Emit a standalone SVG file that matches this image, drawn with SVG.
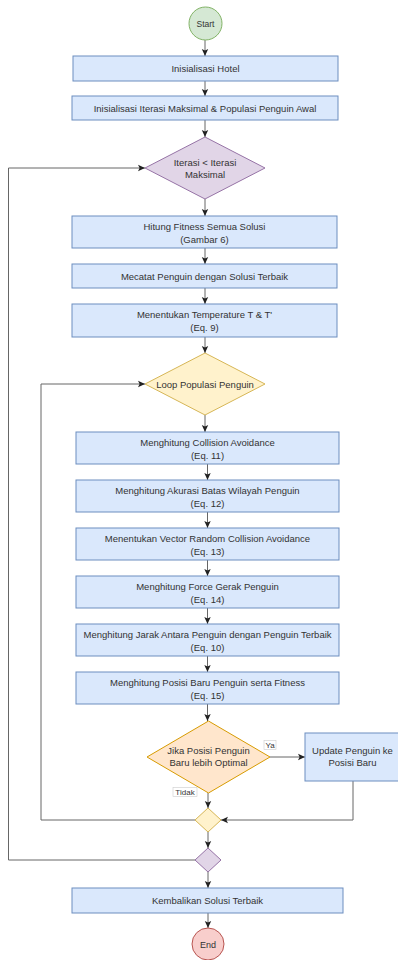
<svg xmlns="http://www.w3.org/2000/svg" width="398" height="960" viewBox="0 0 398 960">
<style>
text{font-family:"Liberation Sans",Arial,sans-serif;font-size:9.5px;fill:#333;text-anchor:middle}
.box{fill:#dae8fc;stroke:#6c8ebf;stroke-width:1}
.ln{fill:none;stroke:#666;stroke-width:1}
.lbl{fill:#fff;stroke:#ccc;stroke-width:0.6}
.small{font-size:8px}
</style>
<defs>
<marker id="ah" markerWidth="8" markerHeight="8" refX="7" refY="4" orient="auto" markerUnits="userSpaceOnUse">
<path d="M0,0.8 L7,4 L0,7.2 L1.6,4 Z" fill="#222"/>
</marker>
</defs>
<g id="connectors">
<path class="ln" marker-end="url(#ah)" d="M205 40 V56"/>
<path class="ln" marker-end="url(#ah)" d="M205 81 V96"/>
<path class="ln" marker-end="url(#ah)" d="M205 120 V137"/>
<path class="ln" marker-end="url(#ah)" d="M205 199 V216"/>
<path class="ln" marker-end="url(#ah)" d="M205 248 V264"/>
<path class="ln" marker-end="url(#ah)" d="M205 288 V304"/>
<path class="ln" marker-end="url(#ah)" d="M205 337 V353"/>
<path class="ln" marker-end="url(#ah)" d="M205 415 V432"/>
<path class="ln" marker-end="url(#ah)" d="M207.5 464 V480"/>
<path class="ln" marker-end="url(#ah)" d="M207.5 512 V528"/>
<path class="ln" marker-end="url(#ah)" d="M207.5 560 V576"/>
<path class="ln" marker-end="url(#ah)" d="M207.5 608 V624"/>
<path class="ln" marker-end="url(#ah)" d="M207.5 656 V672"/>
<path class="ln" marker-end="url(#ah)" d="M207.5 704 V721"/>
<path class="ln" marker-end="url(#ah)" d="M270 757 H305"/>
<path class="ln" marker-end="url(#ah)" d="M208 793 V808"/>
<path class="ln" marker-end="url(#ah)" d="M353 781 V820 H221"/>
<path class="ln" marker-end="url(#ah)" d="M195 820 H41 V384 H145"/>
<path class="ln" marker-end="url(#ah)" d="M208 832 V848"/>
<path class="ln" marker-end="url(#ah)" d="M195 860 H8.5 V168 H145"/>
<path class="ln" marker-end="url(#ah)" d="M208 872 V888"/>
<path class="ln" marker-end="url(#ah)" d="M208 913 V928"/>
<g id="label-ya"><rect class="lbl" x="264" y="740.5" width="12" height="9"/><text class="small" x="270" y="748">Ya</text></g>
<g id="label-tidak"><rect class="lbl" x="173" y="787.5" width="24" height="9"/><text class="small" x="185" y="795">Tidak</text></g>
</g>
<g id="start"><circle cx="205.5" cy="23.5" r="16.5" fill="#d5e8d4" stroke="#82b366"/><text x="205.5" y="26.5" style="font-size:8.5px">Start</text></g>
<g id="n1"><rect class="box" x="73" y="56" width="265" height="25"/><text x="205.5" y="72">Inisialisasi Hotel</text></g>
<g id="n2"><rect class="box" x="72" y="96" width="266" height="24"/><text x="205" y="111.5">Inisialisasi Iterasi Maksimal &amp; Populasi Penguin Awal</text></g>
<g id="d1"><polygon points="205,137 265,168 205,199 145,168" fill="#e1d5e7" stroke="#9673a6"/><text x="205" y="166">Iterasi &lt; Iterasi</text><text x="205" y="178">Maksimal</text></g>
<g id="n3"><rect class="box" x="72" y="216" width="265" height="32"/><text x="204.5" y="229.5">Hitung Fitness Semua Solusi</text><text x="204.5" y="242.5">(Gambar 6)</text></g>
<g id="n4"><rect class="box" x="72" y="264" width="265" height="24"/><text x="204.5" y="279.5">Mecatat Penguin dengan Solusi Terbaik</text></g>
<g id="n5"><rect class="box" x="72" y="304" width="265" height="33"/><text x="204.5" y="317.5">Menentukan Temperature T &amp; T'</text><text x="204.5" y="330.5">(Eq. 9)</text></g>
<g id="d2"><polygon points="205,353 265,384 205,415 145,384" fill="#fff2cc" stroke="#d6b656"/><text x="205" y="387.5">Loop Populasi Penguin</text></g>
<g id="n6"><rect class="box" x="76" y="432" width="263" height="32"/><text x="207.5" y="445.5">Menghitung Collision Avoidance</text><text x="207.5" y="458.5">(Eq. 11)</text></g>
<g id="n7"><rect class="box" x="76" y="480" width="263" height="32"/><text x="207.5" y="493.5">Menghitung Akurasi Batas Wilayah Penguin</text><text x="207.5" y="506.5">(Eq. 12)</text></g>
<g id="n8"><rect class="box" x="76" y="528" width="263" height="32"/><text x="207.5" y="541.5">Menentukan Vector Random Collision Avoidance</text><text x="207.5" y="554.5">(Eq. 13)</text></g>
<g id="n9"><rect class="box" x="76" y="576" width="263" height="32"/><text x="207.5" y="589.5">Menghitung Force Gerak Penguin</text><text x="207.5" y="602.5">(Eq. 14)</text></g>
<g id="n10"><rect class="box" x="76" y="624" width="263" height="32"/><text x="207.5" y="637.5">Menghitung Jarak Antara Penguin dengan Penguin Terbaik</text><text x="207.5" y="650.5">(Eq. 10)</text></g>
<g id="n11"><rect class="box" x="76" y="672" width="263" height="32"/><text x="207.5" y="685.5">Menghitung Posisi Baru Penguin serta Fitness</text><text x="207.5" y="698.5">(Eq. 15)</text></g>
<g id="d3"><polygon points="208.5,721 270,757 208.5,793 147,757" fill="#ffe6cc" stroke="#d79b00"/><text x="208.5" y="754">Jika Posisi Penguin</text><text x="208.5" y="766">Baru lebih Optimal</text></g>
<g id="n12"><rect class="box" x="305" y="733" width="96" height="48"/><text x="352.5" y="754">Update Penguin ke</text><text x="352.5" y="766">Posisi Baru</text></g>
<g id="d4"><polygon points="208,808 221,820 208,832 195,820" fill="#fff2cc" stroke="#d6b656"/></g>
<g id="d5"><polygon points="208,848 221,860 208,872 195,860" fill="#e1d5e7" stroke="#9673a6"/></g>
<g id="n13"><rect class="box" x="72" y="888" width="271" height="25"/><text x="207.5" y="903.5">Kembalikan Solusi Terbaik</text></g>
<g id="end"><circle cx="208" cy="944" r="16" fill="#f8cecc" stroke="#b85450"/><text x="208" y="947.5" style="font-size:9px">End</text></g>
</svg>
